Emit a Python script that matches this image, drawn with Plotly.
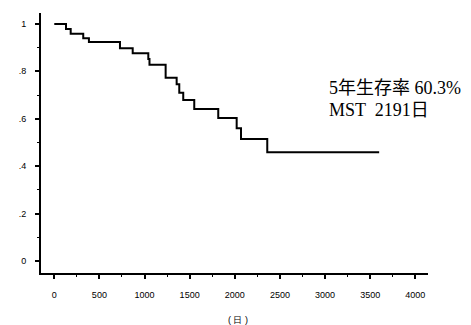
import plotly.graph_objects as go

# Kaplan-Meier step points (days, survival)
days = [0, 130, 182, 321, 384, 728, 869, 1042, 1055, 1234, 1356, 1385, 1429, 1551, 1817, 2021, 2069, 2360, 3600]
surv = [1.0, 0.978, 0.959, 0.940, 0.924, 0.897, 0.876, 0.852, 0.828, 0.773, 0.746, 0.710, 0.679, 0.641, 0.603, 0.560, 0.515, 0.459, 0.459]

x_ticks = [0, 500, 1000, 1500, 2000, 2500, 3000, 3500, 4000]
y_ticks = [0, 0.2, 0.4, 0.6, 0.8, 1.0]
y_ticklabels = ["0", ".2", ".4", ".6", ".8", "1"]

W, H = 471, 325
L, R, T, B = 41, 43, 13, 52

def px(xp):
    return (xp - L) / (W - L - R)

def py(yp):
    return (H - B - yp) / (H - T - B)

fig = go.Figure()
fig.add_trace(go.Scatter(x=days, y=surv, mode="lines", line=dict(shape="hv", color="black", width=2),
                         showlegend=False, hoverinfo="skip"))

fig.update_layout(
    width=W, height=H,
    margin=dict(l=L, r=R, t=T, b=B),
    plot_bgcolor="white", paper_bgcolor="white",
    font=dict(family="Arial, Liberation Sans, sans-serif", size=9, color="black"),
    xaxis=dict(range=[-147, 4141], tickvals=x_ticks, showgrid=False, zeroline=False,
               showline=True, linecolor="black", linewidth=2,
               ticks="outside", ticklen=4, tickwidth=1.5, tickcolor="black",
               minor=dict(ticks="outside", ticklen=2, dtick=250, tick0=0, tickcolor="black", tickwidth=1),
               ticklabelstandoff=8, tickfont=dict(size=9)),
    yaxis=dict(range=[-0.0506, 1.046], tickvals=y_ticks, ticktext=y_ticklabels, showgrid=False, zeroline=False,
               showline=True, linecolor="black", linewidth=2,
               ticks="outside", ticklen=4, tickwidth=1.5, tickcolor="black",
               minor=dict(ticks="outside", ticklen=2, dtick=0.1, tick0=0, tickcolor="black", tickwidth=1),
               ticklabelstandoff=7, tickfont=dict(size=9)),
)

serif = "Liberation Serif, Noto Sans CJK JP, serif"
fig.add_annotation(x=px(327), y=py(88), xref="paper", yref="paper", xanchor="left", yanchor="middle",
                   text="5年生存率 60.3%", showarrow=False, font=dict(family=serif, size=18, color="black"))
fig.add_annotation(x=px(327), y=py(110), xref="paper", yref="paper", xanchor="left", yanchor="middle",
                   text="MST  2191日", showarrow=False, font=dict(family=serif, size=18, color="black"))
fig.add_annotation(x=px(238), y=py(320), xref="paper", yref="paper", xanchor="center", yanchor="middle",
                   text="( 日 )", showarrow=False, font=dict(size=9, color="black"))

fig.write_html("out.html")
